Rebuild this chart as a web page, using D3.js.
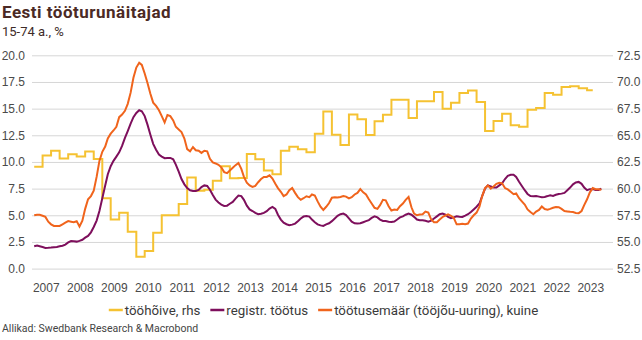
<!DOCTYPE html>
<html>
<head>
<meta charset="utf-8">
<title>Eesti tööturunäitajad</title>
<script src="https://d3js.org/d3.v7.min.js"></script>
<style>
body {margin:0; background:#fff;}
svg {display:block; font-family:Roboto, "Noto Sans", sans-serif;}
.grid line {stroke:#d6d6d6; stroke-width:1;}
.tick text {fill:#4a4a4a; font-size:12px;}
</style>
</head>
<body>
<svg width="642" height="340"></svg>
<script>
// tööhõive (rhs), kvartalid alates 2007 Q1
var empStart = "2007-01";
var employment = [62.05, 63.1, 63.54, 62.83, 63.23, 63.0, 63.47, 62.77,
  59.1, 57.1, 57.74, 55.96, 53.6, 54.15, 55.87, 57.5,
  57.5, 58.55, 61.05, 59.79, 59.9, 60.73, 62.1, 60.96,
  61.0, 63.25, 62.75, 61.7, 61.35, 63.55, 63.93, 63.68,
  63.4, 65.15, 67.24, 65.05, 64.1, 66.95, 66.5, 65.03,
  66.32, 66.92, 68.33, 68.33, 66.63, 68.2, 68.2, 69.06,
  67.5, 68.06, 68.97, 69.19, 68.13, 65.4, 66.34, 67.03,
  65.94, 65.8, 67.4, 67.56, 68.97, 68.81, 69.53, 69.6,
  69.4, 69.22];

// kuised read alates 2007-01
var monthStart = "2007-01";
var registered = [2.1, 2.17, 2.1, 2.02, 1.94, 1.95, 1.97, 2.0, 2.03, 2.1, 2.15, 2.25,
  2.45, 2.58, 2.56, 2.53, 2.6, 2.7, 2.9, 3.06, 3.4, 3.9, 4.5, 5.4,
  6.6, 7.8, 8.85, 9.6, 10.1, 10.5, 10.9, 11.5, 12.25, 12.9, 13.6, 14.2,
  14.6, 14.85, 14.75, 14.3, 13.5, 12.55, 11.7, 11.15, 10.69, 10.5, 10.35, 10.38,
  10.38, 10.25, 9.75, 9.1, 8.4, 7.9, 7.55, 7.35, 7.28, 7.28, 7.38, 7.65,
  7.8, 7.75, 7.4, 6.9, 6.47, 6.2, 6.0, 5.88, 5.9, 6.08, 6.25, 6.56,
  6.85, 6.8, 6.45, 5.9, 5.55, 5.4, 5.22, 5.1, 5.15, 5.22, 5.38, 5.63,
  5.78, 5.6, 5.05, 4.6, 4.3, 4.16, 4.06, 4.12, 4.22, 4.45, 4.7, 4.88,
  4.94, 4.88, 4.6, 4.35, 4.15, 4.05, 4.0, 4.15, 4.25, 4.45, 4.7, 4.95,
  5.1, 5.16, 5.02, 4.7, 4.4, 4.25, 4.22, 4.25, 4.35, 4.45, 4.55, 4.75,
  4.9, 4.8, 4.6, 4.47, 4.47, 4.4, 4.38, 4.42, 4.6, 4.8, 4.9, 5.05,
  5.15, 5.05, 4.85, 4.6, 4.53, 4.53, 4.48, 4.4, 4.5, 4.7, 4.9, 5.1,
  5.16, 5.05, 4.85, 4.72, 4.8, 4.9, 4.86, 4.85, 4.97, 5.1, 5.3, 5.55,
  5.8, 6.1, 6.8, 7.5, 7.8, 7.7, 7.6, 7.6, 7.8, 8.0, 8.4, 8.7,
  8.8, 8.8, 8.6, 8.15, 7.75, 7.35, 7.0, 6.8, 6.78, 6.8, 6.75, 6.7,
  6.72, 6.8, 6.88, 6.82, 6.92, 7.0, 7.03, 7.1, 7.35, 7.6, 7.9, 8.08,
  8.13, 7.95, 7.6, 7.35, 7.45, 7.45, 7.38, 7.38, 7.5];

var lfsRate = [5.0, 5.05, 5.05, 4.95, 4.85, 4.4, 4.15, 4.0, 4.0, 4.0, 4.15, 4.3,
  4.45, 4.4, 4.35, 4.45, 3.95, 4.5, 5.6, 6.5, 6.8, 7.3, 8.6, 10.1,
  10.95, 11.45, 12.2, 12.65, 12.95, 13.3, 14.2, 14.45, 14.8, 15.45, 16.5, 17.9,
  18.85, 19.3, 19.1, 18.3, 17.4, 16.4, 15.56, 15.25, 14.85, 14.3, 13.7, 14.4,
  14.3, 13.9, 13.3, 13.05, 12.8, 12.2, 11.2, 11.0, 11.4, 11.1, 11.05, 10.85,
  11.05, 11.0, 10.3, 9.95, 9.86, 9.73, 9.5, 9.05, 8.95, 9.2, 9.45, 9.7,
  9.9, 9.35, 8.6, 8.05, 7.8, 7.66, 7.75, 8.1, 8.4, 8.6, 8.6, 8.75,
  8.45, 7.95, 7.55, 7.2, 6.8, 6.95, 7.35, 7.55, 7.1, 6.7, 6.45, 6.6,
  6.78, 6.7, 6.95, 6.85, 6.3, 5.8, 5.5, 5.8, 6.15, 6.65, 6.7, 6.66,
  6.72, 6.8, 6.75, 6.58, 6.7, 6.95, 7.1, 7.45, 7.15, 6.95, 6.5, 6.1,
  5.7, 5.6, 5.95, 6.45, 6.4, 5.85, 5.45, 5.53, 5.5, 5.85, 6.1, 6.45,
  6.72, 5.75, 5.16, 5.0, 5.07, 5.1, 5.35, 5.25, 4.6, 4.35, 4.35, 4.6,
  4.84, 4.98, 5.09, 4.95, 4.75, 4.15, 4.15, 4.2, 4.16, 4.22, 4.69, 5.0,
  5.25, 5.8, 6.8, 7.55, 7.8, 7.5, 7.7, 7.95, 8.05, 8.0, 7.55, 7.42,
  7.2, 6.98, 7.05, 6.6, 6.3, 6.0, 5.55, 5.3, 5.1, 5.35, 5.5, 5.82,
  5.58, 5.53, 5.6, 5.7, 5.78, 5.76, 5.6, 5.4, 5.36, 5.32, 5.3, 5.22,
  5.2, 5.4, 5.95, 6.5, 7.15, 7.55, 7.45, 7.45, 7.4];

var leftTicks = [0, 2.5, 5, 7.5, 10, 12.5, 15, 17.5, 20];
var rightTicks = [52.5, 55, 57.5, 60, 62.5, 65, 67.5, 70, 72.5];
var years = d3.range(2007, 2024);

var seriesNames = ["tööhõive, rhs", "registr. töötus", "töötusemäär (tööjõu-uuring), kuine"];
var seriesColors = ["#f5c232", "#7e0f5c", "#f0641c"];

var parseMonth = d3.timeParse("%Y-%m");
var svg = d3.select("svg");

var plotL = 32, plotR = 613, plotT = 55.3, plotB = 268.6;

var x = d3.scaleTime()
  .domain([new Date(2007, 0, 1), new Date(2024, 0, 1)])
  .range([34.2, 612.7]);
var y = d3.scaleLinear().domain([0, 20]).range([plotB, plotT]);
var yR = d3.scaleLinear().domain([52.5, 72.5]).range([plotB, plotT]);

// title
svg.append("text").attr("x", 2).attr("y", 18)
  .style("font-size", "17px").style("font-weight", 700).style("fill", "#4b2a25")
  .style("letter-spacing", "0.5px")
  .text("Eesti tööturunäitajad");
svg.append("text").attr("x", 2).attr("y", 36)
  .style("font-size", "13px").style("fill", "#3d2b28")
  .text("15-74 a., %");

// left axis + gridlines
var gl = svg.append("g").attr("class", "grid")
  .attr("transform", "translate(" + plotL + ",0)")
  .call(d3.axisLeft(y).tickValues(leftTicks).tickSize(-(plotR - plotL)).tickPadding(7)
    .tickFormat(d3.format(".1f")));
gl.select(".domain").remove();

var gr = svg.append("g")
  .attr("transform", "translate(" + plotR + ",0)")
  .call(d3.axisRight(yR).tickValues(rightTicks).tickSize(0).tickPadding(4)
    .tickFormat(d3.format(".1f")));
gr.select(".domain").remove();

var gx = svg.append("g")
  .attr("transform", "translate(0," + plotB + ")")
  .call(d3.axisBottom(x).tickValues(years.map(function(yr) { return new Date(yr, 4, 5); }))
    .tickSize(0).tickPadding(14.4).tickFormat(d3.timeFormat("%Y")));
gx.select(".domain").remove();

// series
var m0 = parseMonth(monthStart);
var q0 = parseMonth(empStart);
var empData = employment.map(function(v, i) { return [d3.timeMonth.offset(q0, 3 * i), v]; });
empData.push([d3.timeMonth.offset(q0, 3 * (employment.length - 1) + 2), employment[employment.length - 1]]);
var regData = registered.map(function(v, i) { return [d3.timeMonth.offset(m0, i), v]; });
var lfsData = lfsRate.map(function(v, i) { return [d3.timeMonth.offset(m0, i), v]; });

var lineL = d3.line().x(function(d) { return x(d[0]); }).y(function(d) { return y(d[1]); });
var lineR = d3.line().curve(d3.curveStepAfter)
  .x(function(d) { return x(d[0]); }).y(function(d) { return yR(d[1]); });

svg.append("path").datum(empData).attr("d", lineR)
  .attr("fill", "none").attr("stroke", seriesColors[0]).attr("stroke-width", 2);
svg.append("path").datum(regData).attr("d", lineL)
  .attr("fill", "none").attr("stroke", seriesColors[1]).attr("stroke-width", 2);
svg.append("path").datum(lfsData).attr("d", lineL)
  .attr("fill", "none").attr("stroke", seriesColors[2]).attr("stroke-width", 2);

// legend
var lg = svg.append("g");
var lx = 0;
seriesNames.forEach(function(name, i) {
  lg.append("line").attr("x1", lx).attr("x2", lx + 14).attr("y1", 0).attr("y2", 0)
    .attr("stroke", seriesColors[i]).attr("stroke-width", 2.5);
  var t = lg.append("text").attr("x", lx + 16).attr("y", 0).attr("dy", "0.35em")
    .style("font-size", "13.3px").style("fill", "#3a3a3a").text(name);
  lx += 16 + t.node().getComputedTextLength() + 10;
});
lg.attr("transform", "translate(" + (323.5 - (lx - 10) / 2) + ",310)");

svg.append("text").attr("x", 2).attr("y", 332)
  .style("font-size", "10.5px").style("fill", "#444")
  .text("Allikad: Swedbank Research & Macrobond");
</script>
</body>
</html>
